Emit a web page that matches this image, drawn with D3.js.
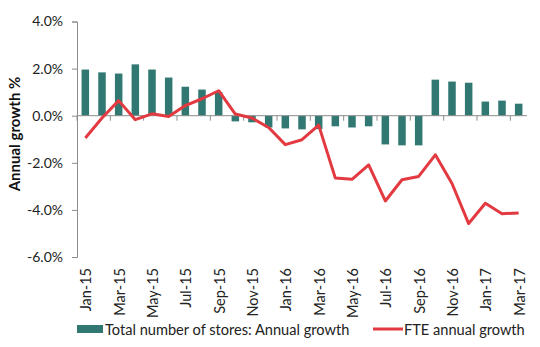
<!DOCTYPE html>
<html>
<head>
<meta charset="utf-8">
<script src="https://cdn.jsdelivr.net/npm/d3@7"></script>
<style>
  body { margin: 0; background: #fff; }
  svg { display: block; font-family: Lato, "Open Sans", sans-serif; }
</style>
</head>
<body>
<div id="chart"></div>
<script>
// months, Jan-15 .. Mar-17
var months = ["Jan-15", "Feb-15", "Mar-15", "Apr-15", "May-15", "Jun-15", "Jul-15", "Aug-15", "Sep-15",
  "Oct-15", "Nov-15", "Dec-15", "Jan-16", "Feb-16", "Mar-16", "Apr-16", "May-16", "Jun-16",
  "Jul-16", "Aug-16", "Sep-16", "Oct-16", "Nov-16", "Dec-16", "Jan-17", "Feb-17", "Mar-17"];

// total number of stores, annual growth (%)
var storeGrowth = [1.96, 1.84, 1.79, 2.18, 1.96, 1.62, 1.23, 1.11, 1.0,
  -0.24, -0.28, -0.5, -0.54, -0.58, -0.57, -0.45, -0.5, -0.45,
  -1.22, -1.26, -1.26, 1.53, 1.45, 1.4, 0.6, 0.64, 0.51];

// FTE annual growth (%)
var fteGrowth = [-0.95, -0.1, 0.64, -0.17, 0.08, -0.03, 0.43, 0.72, 1.06,
  0.07, -0.1, -0.5, -1.23, -1.02, -0.4, -2.65, -2.7, -2.09,
  -3.62, -2.72, -2.58, -1.66, -2.88, -4.58, -3.72, -4.16, -4.13];

var yTicks = [4, 2, 0, -2, -4, -6];

var svgWidth = 540, svgHeight = 347;
var margin = { top: 21.5, right: 13, bottom: 90, left: 77 };
var width = svgWidth - margin.left - margin.right;
var height = svgHeight - margin.top - margin.bottom;

var teal = "#317873", red = "#E23A40", axisGrey = "#8c8c8c";

var svg = d3.select("#chart").append("svg")
  .attr("width", svgWidth)
  .attr("height", svgHeight);

var chartGroup = svg.append("g")
  .attr("transform", `translate(${margin.left}, ${margin.top})`);

var x = d3.scaleBand().domain(months).range([0, width]).paddingInner(0.55).paddingOuter(0.275);
var xPoint = function(m) { return x(m) + x.bandwidth() / 2; };
var step = x.step();

var y = d3.scaleLinear().domain([-6, 4]).range([height, 0]);

// y axis
var leftAxis = d3.axisLeft(y)
  .tickValues(yTicks)
  .tickSize(5)
  .tickFormat(d => d.toFixed(1) + "%");

var yAxisG = chartGroup.append("g").call(leftAxis);
yAxisG.select(".domain").attr("stroke", axisGrey);
yAxisG.selectAll(".tick line").attr("stroke", axisGrey);
yAxisG.selectAll(".tick text")
  .attr("x", -14)
  .style("font-size", "14px")
  .style("font-family", "Lato, sans-serif")
  .attr("fill", "#222");

// bars
chartGroup.selectAll("rect.bar")
  .data(storeGrowth)
  .enter()
  .append("rect")
  .attr("class", "bar")
  .attr("x", (d, i) => x(months[i]))
  .attr("width", x.bandwidth())
  .attr("y", d => y(Math.max(0, d)))
  .attr("height", d => Math.abs(y(d) - y(0)))
  .attr("fill", teal);

// x axis line at zero, ticks every two months
var zeroY = y(0);
chartGroup.append("line")
  .attr("x1", 0).attr("x2", width)
  .attr("y1", zeroY).attr("y2", zeroY)
  .attr("stroke", axisGrey);

chartGroup.selectAll("line.xtick")
  .data(d3.range(0, months.length + 1, 2))
  .enter()
  .append("line")
  .attr("class", "xtick")
  .attr("x1", d => d * step).attr("x2", d => d * step)
  .attr("y1", zeroY).attr("y2", zeroY + 5)
  .attr("stroke", axisGrey);

// month labels, every second month
chartGroup.selectAll("text.xlabel")
  .data(months.filter((m, i) => i % 2 === 0))
  .enter()
  .append("text")
  .attr("class", "xlabel")
  .attr("transform", d => `translate(${xPoint(d) + 6}, ${height + 11}) rotate(-90)`)
  .attr("text-anchor", "end")
  .style("font-size", "14.5px")
  .attr("fill", "#222")
  .text(d => d);

// FTE line
var line = d3.line()
  .x((d, i) => xPoint(months[i]))
  .y(d => y(d));

chartGroup.append("path")
  .datum(fteGrowth)
  .attr("d", line)
  .attr("fill", "none")
  .attr("stroke", red)
  .attr("stroke-width", 3)
  .attr("stroke-linejoin", "round");

// y axis title
svg.append("text")
  .attr("transform", "translate(20, 134) rotate(-90)")
  .attr("text-anchor", "middle")
  .style("font-size", "15px")
  .style("font-weight", "bold")
  .attr("fill", "#111")
  .text("Annual growth %");

// legend
var legend = svg.append("g").attr("transform", "translate(0, 329)");
legend.append("rect")
  .attr("x", 77).attr("y", -4).attr("width", 26).attr("height", 8)
  .attr("fill", teal);
legend.append("text")
  .attr("x", 105).attr("y", 5.5)
  .style("font-size", "14.6px")
  .attr("fill", "#222")
  .text("Total number of stores: Annual growth");
legend.append("line")
  .attr("x1", 373).attr("x2", 403).attr("y1", 0).attr("y2", 0)
  .attr("stroke", red).attr("stroke-width", 3);
legend.append("text")
  .attr("x", 404).attr("y", 5.5)
  .style("font-size", "14.6px")
  .attr("fill", "#222")
  .text("FTE annual growth");
</script>
</body>
</html>
